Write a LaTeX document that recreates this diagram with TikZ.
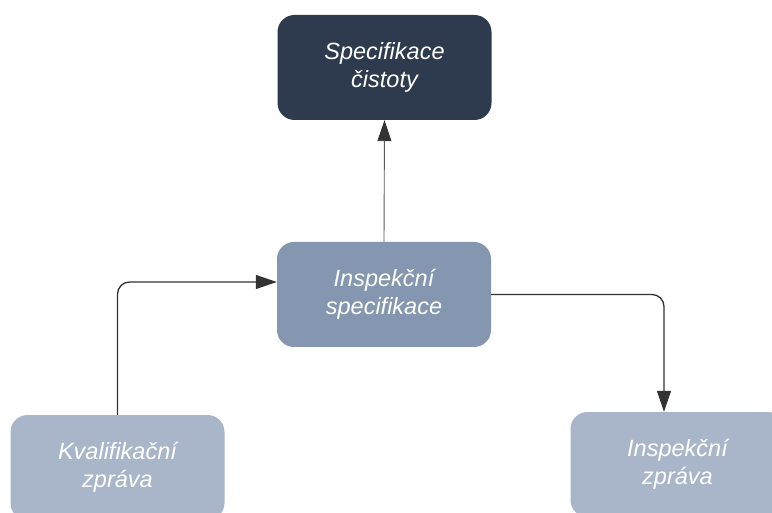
\documentclass[tikz,border=0pt]{standalone}
\usepackage{fontspec}
\setmainfont{Liberation Sans}
\usetikzlibrary{arrows.meta}
\definecolor{boxdark}{HTML}{2E3B4E}
\definecolor{boxmid}{HTML}{8596B0}
\definecolor{boxlight}{HTML}{A9B6C9}
\definecolor{linec}{HTML}{333333}
\definecolor{linegray}{HTML}{5A5A5A}
\tikzset{
  card/.style={rectangle, rounded corners=17pt, minimum width=214pt, minimum height=105pt,
    align=center, text=white, inner sep=0pt,
    font=\fontsize{23.5}{28}\selectfont\itshape},
  conn/.style={draw=linec, line width=1.3pt, rounded corners=12pt,
    -{Triangle[length=21pt,width=14pt]}},
  thinconn/.style={draw=linegray, line width=0.9pt,
    -{Triangle[length=21pt,width=14pt,color=linec]}}
}
\begin{document}
\begin{tikzpicture}[x=1pt,y=-1pt]
\useasboundingbox (0,0) rectangle (772,513);
\fill[white] (0,0) rectangle (772,513);
\clip (0,0) rectangle (772,513);
\node[card, fill=boxdark]  (spec) at (384.5,67.5) {Specifikace\\čistoty};
\node[card, fill=boxmid]   (insp) at (384,294.5) {Inspekční\\specifikace};
\node[card, fill=boxlight] (kval) at (117.5,467.5) {Kvalifikační\\zpráva};
\node[card, fill=boxlight] (izpr) at (677.5,464.5) {Inspekční\\zpráva};
\draw[thinconn] (insp.north) -- (spec.south);
\draw[conn] (kval.north) |- ([yshift=12.5pt]insp.west);
\draw[conn] (insp.east) -| ([xshift=-13.5pt]izpr.north);
\end{tikzpicture}
\end{document}
